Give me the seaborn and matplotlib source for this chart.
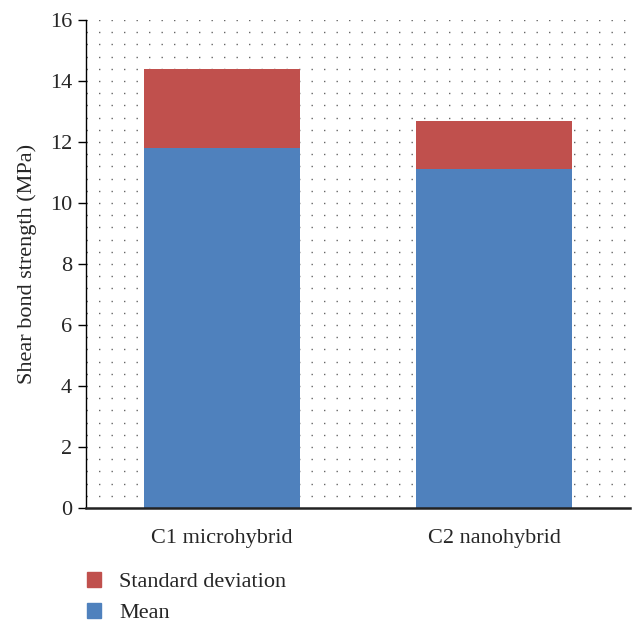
import numpy as np
import pandas as pd
import seaborn as sns
import matplotlib.pyplot as plt
from matplotlib.patches import Patch

# values
groups = ["C1 microhybrid", "C2 nanohybrid"]
mean_vals = [11.8, 11.1]
sd_vals = [2.6, 1.6]
y_ticks = [0, 2, 4, 6, 8, 10, 12, 14, 16]

df = pd.DataFrame({"group": groups, "mean": mean_vals, "sd": sd_vals})
df["total"] = df["mean"] + df["sd"]

sns.set_style("white")
plt.rcParams["font.family"] = ["Liberation Serif", "DejaVu Serif"]

fig = plt.figure(figsize=(6.42, 6.28), dpi=100)
ax = fig.add_axes([86 / 642, 1 - 508 / 628, 544 / 642, 488 / 628])

red = "#C0504D"
blue = "#4F81BD"

# stacked bars: full height in red, mean in blue on top
sns.barplot(data=df, x="group", y="total", color=red, width=0.57,
            saturation=1, linewidth=0, ax=ax, zorder=2)
sns.barplot(data=df, x="group", y="mean", color=blue, width=0.57,
            saturation=1, linewidth=0, ax=ax, zorder=3)

ax.set_xlim(-0.5, 1.5)
ax.set_ylim(0, 16)
ax.set_yticks(y_ticks)

# dotted background grid
rows = np.arange(0.4, 16.01, 0.4)
ax.hlines(rows, -0.5, 1.5, colors="#666666", linewidth=1.0,
          linestyles=[(0, (1, 8))], zorder=0)

for s in ["top", "right"]:
    ax.spines[s].set_visible(False)
ax.spines["left"].set_color("black")
ax.spines["left"].set_linewidth(1.0)
ax.spines["bottom"].set_color("#222222")
ax.spines["bottom"].set_linewidth(1.8)
ax.spines["bottom"].set_zorder(5)

ax.tick_params(axis="y", direction="out", length=6, width=1, color="black",
               labelsize=16, pad=4, left=True)
ax.tick_params(axis="x", length=0, labelsize=16, pad=15)
ax.set_xlabel("")
ax.set_ylabel("Shear bond strength (MPa)", fontsize=16, labelpad=9)

handles = [Patch(color=red, label="Standard deviation"),
           Patch(color=blue, label="Mean")]
fig.legend(handles=handles, loc="upper left",
           bbox_to_anchor=(87 / 642, 1 - 572 / 628), frameon=False,
           borderpad=0, borderaxespad=0, fontsize=16, handlelength=0.64,
           handleheight=0.64, handletextpad=0.8, labelspacing=0.5)

fig.savefig("out.png", dpi=100)
